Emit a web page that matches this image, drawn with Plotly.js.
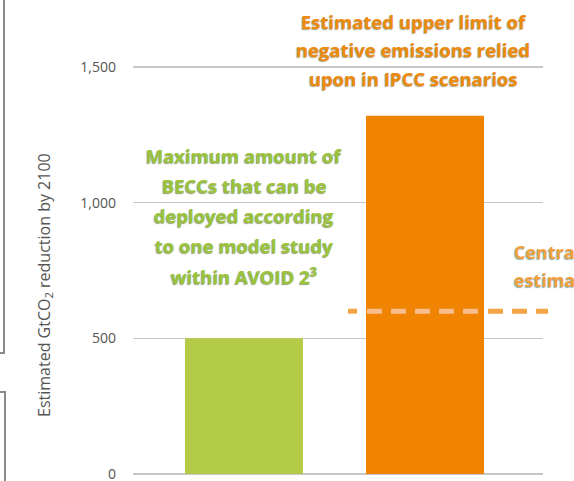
<!DOCTYPE html>
<html>
<head>
<meta charset="utf-8">
<script src="https://cdn.plot.ly/plotly-3.0.1.min.js"></script>
<style>
  html, body { margin: 0; padding: 0; background: #fff; }
  #chart { width: 574px; height: 481px; }
</style>
</head>
<body>
<div id="chart"></div>
<script>
// Negative-emissions estimates, GtCO2 removed by 2100
const categories = ['AVOID 2 BECCS maximum', 'IPCC scenarios upper limit'];
const values = [500, 1320];
const centralEstimate = 600;
const yTickValues = [0, 500, 1000, 1500];
const yTickLabels = ['0', '500', '1,000', '1,500'];

const greenLines = ['Maximum amount of', 'BECCs that can be', 'deployed according', 'to one model study', 'within AVOID 2<sup>3</sup>'];
const orangeLines = ['Estimated upper limit of', 'negative emissions relied', 'upon in IPCC scenarios'];
const centralLines = ['Central', 'estimate'];
const yTitle = 'Estimated GtCO<sub>2</sub> reduction by 2100';

// Frame geometry (pixels)
const W = 574, H = 481;
const M = { l: 133, r: 31, t: 0, b: 7 };
const PW = W - M.l - M.r, PH = H - M.t - M.b;
const px = x => (x - M.l) / PW;          // pixel x -> paper
const py = y => (H - M.b - y) / PH;      // pixel y -> paper

const GREEN = '#b3cb46', ORANGE = '#f08300';
const FONT = 'Open Sans, Lato, sans-serif';

const annotations = [];
greenLines.forEach((t, i) => annotations.push({
  text: '<b>' + t + '</b>', xref: 'paper', yref: 'paper', xanchor: 'center', yanchor: 'middle',
  x: px(244), y: py(155 + i * 30), showarrow: false,
  font: { family: FONT, size: 18.5, color: '#9cc43a', shadow: '-1px 1px 1px rgba(80,95,30,0.6)' }
}));
orangeLines.forEach((t, i) => annotations.push({
  text: '<b>' + t + '</b>', xref: 'paper', yref: 'paper', xanchor: 'center', yanchor: 'middle',
  x: px(413), y: py(21 + i * 28.5), showarrow: false,
  font: { family: FONT, size: 18.5, color: '#f08a0c', shadow: '-1px 1px 1px rgba(100,90,30,0.55)' }
}));
centralLines.forEach((t, i) => annotations.push({
  text: '<b>' + t + '</b>', xref: 'paper', yref: 'paper', xanchor: 'left', yanchor: 'middle',
  x: px(512), y: py(252 + i * 28), showarrow: false,
  font: { family: FONT, size: 18, color: '#f4a03c', shadow: '-1px 1px 1px rgba(60,110,110,0.55)' }
}));
// Rotated y-axis title
annotations.push({
  text: yTitle, xref: 'paper', yref: 'paper', xanchor: 'center', yanchor: 'middle',
  x: px(44), y: py(285), textangle: -90, showarrow: false,
  font: { family: FONT, size: 16, color: '#555' }
});

// Dashed central-estimate line: lighter where it crosses the orange bar
const dashSeg = (x0, x1, color, dash) => ({
  type: 'line', xref: 'paper', yref: 'y',
  x0: px(x0), x1: px(x1), y0: centralEstimate, y1: centralEstimate,
  line: { color: color, width: 5, dash: dash }
});

// Document frame brackets at the left edge
const frame = {
  type: 'path', xref: 'paper', yref: 'paper',
  path: `M ${px(4)} ${py(0)} L ${px(4)} ${py(353)} L ${px(-2)} ${py(353)}`,
  line: { color: '#8a8a8a', width: 2 }
};
const frame2 = {
  type: 'path', xref: 'paper', yref: 'paper',
  path: `M ${px(-2)} ${py(392)} L ${px(5)} ${py(392)} L ${px(5)} ${py(483)}`,
  line: { color: '#8a8a8a', width: 2 }
};

const trace = {
  type: 'bar', x: categories, y: values, width: 0.652,
  marker: { color: [GREEN, ORANGE], line: { width: 0 } },
  hoverinfo: 'skip'
};

const layout = {
  width: W, height: H,
  margin: M,
  paper_bgcolor: '#fff', plot_bgcolor: '#fff',
  showlegend: false,
  xaxis: {
    type: 'category', range: [-0.613, 1.652],
    showticklabels: false, showgrid: false, zeroline: false, showline: false, ticks: ''
  },
  yaxis: {
    range: [0, 1747], tickvals: yTickValues, ticktext: yTickLabels,
    showgrid: true, gridcolor: '#c6c6c6', gridwidth: 1.5,
    zeroline: true, zerolinecolor: '#c6c6c6', zerolinewidth: 1.5,
    showline: false, ticks: '', ticklabelstandoff: 16, ticklabeloverflow: 'allow',
    tickfont: { family: FONT, size: 14, color: '#555' }
  },
  annotations: annotations,
  shapes: [
    dashSeg(348, 357, '#f5a445', 'solid'),
    dashSeg(367, 482, '#f7bd8c', '15px,9px'),
    dashSeg(488, 548, '#f5a445', '15px,9px'),
    frame, frame2
  ]
};

Plotly.newPlot('chart', [trace], layout, { displayModeBar: false, staticPlot: true });
</script>
</body>
</html>
